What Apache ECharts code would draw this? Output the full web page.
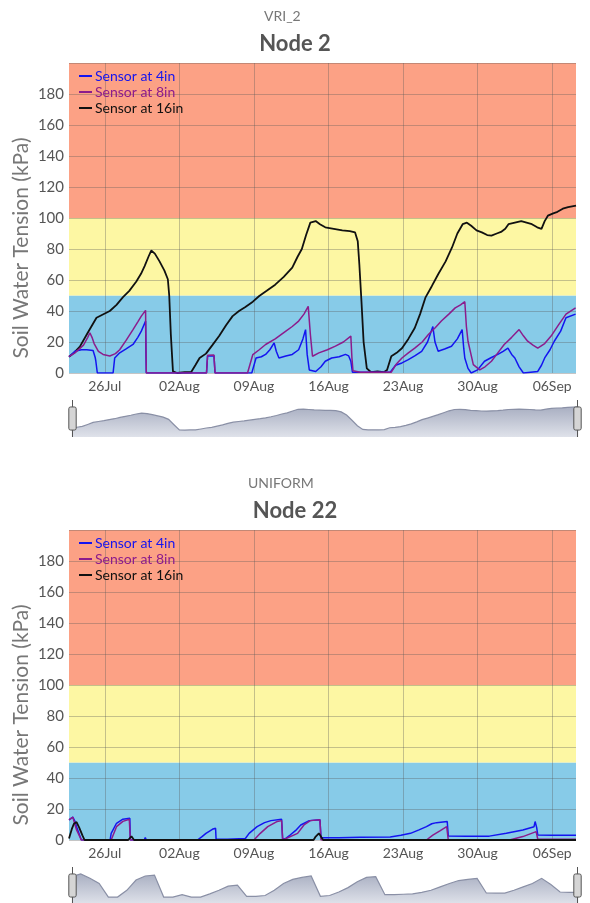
<!DOCTYPE html>
<html>
<head>
<meta charset="utf-8">
<script src="https://cdn.jsdelivr.net/npm/echarts@6/dist/echarts.min.js"></script>
<style>
  html, body { margin: 0; padding: 0; background: #fff; }
  #chart { width: 590px; height: 903px; }
</style>
</head>
<body>
<div id="chart"></div>
<script>
// x = days counted from 26 Jul (0 = 26Jul, 7 = 02Aug ...)
var xMin = -3.36, xMax = 44.24;
var tickDays = [0, 7, 14, 21, 28, 35, 42];
var tickLabels = ['26Jul', '02Aug', '09Aug', '16Aug', '23Aug', '30Aug', '06Sep'];

// tension bands (kPa)
var bandEdges = [0, 50, 100, 200];
var bandColors = ['#87cbe8', '#fdf7a3', '#fca185'];

var seriesNames = ['Sensor at 4in', 'Sensor at 8in', 'Sensor at 16in'];
var seriesColors = ['#1414f0', '#8c1c8c', '#111111'];

// Node 2 (VRI_2)
var n2_4in = [[-3.36,10.5],[-2.8,14],[-2.2,15],[-1.7,15],[-1.1,14.5],[-0.9,10],[-0.84,7.6],[-0.7,0],[0.78,0],[0.93,9.7],[1.4,13],[2.0,15.5],[2.65,18.4],[3.1,23],[3.43,27],[3.83,33.5],[3.86,15],[3.9,0],[9.55,0],[9.65,11],[10.25,11.2],[10.35,0],[13.8,0],[14.2,9.7],[14.7,10.5],[15.1,12],[15.5,15],[15.9,19.4],[16.1,14],[16.35,9.7],[17,11],[17.6,12],[18.2,15],[18.6,22],[18.85,28],[19.0,12],[19.2,2],[19.8,1],[20.3,4],[20.7,7.6],[21.3,9.7],[22,10.5],[22.6,12],[22.9,11],[23.1,7.6],[23.25,0.5],[26.8,0.5],[27.3,5],[27.9,6.5],[28.5,8.6],[29.1,11],[29.75,14],[30.3,20],[30.8,30],[31.0,20],[31.3,14],[31.9,15.5],[32.55,17.3],[33.1,22],[33.55,28],[33.7,16],[33.8,9.7],[34.1,3],[34.4,0],[35,2],[35.65,7.6],[36.3,10],[36.9,12],[37.4,14],[37.85,16],[38.2,12],[38.5,9.7],[38.9,4],[39.3,0],[40.65,1],[41.0,5],[41.3,9.7],[41.8,15],[42.2,20.5],[42.8,27],[43.3,35.6],[44.2,38]];
var n2_8in = [[-3.36,10.5],[-2.8,13],[-2.0,18],[-1.6,23],[-1.4,26],[-1.2,23],[-1.0,19],[-0.6,14],[-0.16,12],[0.47,11],[1.0,12.5],[1.4,15],[2.0,21],[2.65,28],[3.1,33],[3.43,36.7],[3.83,40.4],[3.86,20],[3.9,0],[9.55,0],[9.65,11.4],[10.25,11.6],[10.35,0],[13.4,0],[13.9,11.9],[14.5,15],[15.1,18.4],[16,22],[17,27],[17.6,30],[18.2,33.5],[18.7,38],[19.1,43],[19.3,25],[19.5,10.8],[20.1,13],[20.9,15],[21.65,17.3],[22.4,20],[23.1,23.8],[23.2,10],[23.3,1.5],[24,0.5],[26.9,0.5],[27.4,6],[27.9,9.7],[28.5,13],[29.1,16],[29.8,20],[30.4,25],[31,29],[31.6,33.5],[32.3,38],[32.9,42],[33.4,44],[33.8,46],[33.95,30],[34.1,20.5],[34.6,5.4],[35.2,2],[35.7,4],[36.3,7.6],[36.9,13],[37.5,18.4],[38.2,23],[38.9,28],[39.3,24],[39.7,20.5],[40.2,18],[40.65,16],[41.3,19],[41.9,23.8],[42.6,31],[43.3,38],[44.2,42]];
var n2_16in = [[-3.36,10.5],[-2.9,13],[-2.34,17],[-1.6,26],[-0.78,35.6],[0.47,40],[1.1,44],[1.71,49],[2.3,53],[2.96,59],[3.4,64],[3.74,69],[4.1,75],[4.36,79],[4.7,77],[5.14,72],[5.6,66],[5.92,60.5],[6.05,50],[6.2,25],[6.4,1],[6.8,0],[7.5,0.5],[8.1,0.5],[8.5,5],[8.9,9.7],[9.5,12.5],[10.1,18],[10.75,24],[11.4,31],[12,36.7],[12.6,40],[13.2,42.6],[13.9,46],[14.5,49.7],[15.2,53],[16.0,57],[16.8,62],[17.6,68],[18.1,75],[18.5,80],[18.9,89],[19.3,97],[19.8,98],[20.2,96],[20.7,94],[21.5,93],[22.3,92],[23,91.5],[23.5,90.7],[23.75,85],[23.9,70],[24.1,46],[24.3,20],[24.6,3],[25,0.5],[25.6,1],[26.2,0.5],[26.5,2],[26.9,10.8],[27.4,13],[27.9,16],[28.5,22],[29.1,29],[29.6,38],[30.1,48.6],[30.7,56],[31.3,63.7],[32,72],[32.6,81],[33.1,90],[33.6,96],[34.0,97],[34.4,95],[34.9,92],[35.4,90.7],[35.9,89],[36.3,88.6],[36.8,90],[37.2,91],[37.6,93],[37.9,96],[38.5,97],[39.1,98],[39.6,97],[40.1,96],[40.6,94],[41.0,93],[41.3,98],[41.6,101.5],[42.1,103],[42.5,104],[43.0,106],[43.5,107],[44.24,108]];

// Node 22 (UNIFORM)
var n22_4in = [[-3.36,13],[-3.0,14.7],[-2.8,12],[-2.65,8.6],[-2.2,0],[0.5,0],[0.6,4.3],[1.1,10.8],[1.7,13.4],[2.35,14],[2.4,0],[3.7,0],[3.8,1.5],[3.9,0],[8.7,0],[9.1,2],[9.5,4.3],[10.1,6.9],[10.4,7.6],[10.45,0.5],[11.5,0.5],[13.2,1],[13.55,4.3],[14.3,8.6],[15,11.2],[15.6,12.5],[16.6,13.4],[16.7,0.5],[17.0,1],[17.4,3.2],[17.9,6],[18.4,9.7],[19.2,12.5],[20.2,13],[20.3,1.5],[22,1.5],[24,1.8],[26.8,2],[27.8,3],[28.7,4.3],[29.5,6.5],[30.2,8.6],[30.7,10.5],[31.15,11.2],[32.15,11.9],[32.25,2.6],[34,2.5],[36.1,2.5],[37.7,4.3],[39.25,6.5],[40.3,8.6],[40.4,11.9],[40.55,8],[40.65,3.2],[42,3],[44.24,3]];
var n22_8in = [[-3.36,13],[-3.0,14.7],[-2.65,6.5],[-2.2,0],[0.6,0],[1.1,8.6],[1.7,12],[2.3,13.4],[2.4,0],[14,0],[14.6,4.3],[15.3,8.6],[16.2,12],[16.6,12.5],[16.7,0],[18.1,4.3],[18.7,9.7],[19.3,12.5],[20.2,13],[20.3,0],[30.2,0],[30.8,3.2],[31.5,6],[32.1,8.6],[32.25,0],[38,0],[39.25,2.2],[40.5,5.4],[40.65,0.5],[44.24,0.5]];
var n22_16in = [[-3.36,1],[-3.1,7],[-2.9,10.5],[-2.65,11.6],[-2.4,8],[-2.1,3],[-1.9,0],[2.2,0],[2.5,2.4],[2.75,0],[19.6,0],[19.8,2.2],[20.1,4.3],[20.5,0],[44.24,0]];

var FONT = 'Lato, "Open Sans", sans-serif';

var panels = [
  { sub: 'VRI_2', subLeft: 259, title: 'Node 2', top: 0, data: [n2_4in, n2_8in, n2_16in], shadowFirst: 2 },
  { sub: 'UNIFORM', subLeft: 243, title: 'Node 22', top: 467, data: [n22_4in, n22_8in, n22_16in], shadowFirst: 0 }
];

var option = {
  animation: false,
  title: [], legend: [], grid: [], xAxis: [], yAxis: [], dataZoom: [], series: []
};

panels.forEach(function (p, i) {
  option.title.push({
    text: p.sub, left: p.subLeft, top: p.top + 4,
    textStyle: { fontFamily: FONT, fontSize: 14, fontWeight: 'normal', color: '#777' }
  });
  option.title.push({
    text: p.title, left: 'center', top: p.top + 28,
    textStyle: { fontFamily: FONT, fontSize: 22, fontWeight: 'bold', color: '#555' }
  });
  option.grid.push({ left: 69, right: 14, top: p.top + 63, height: 310 });
  option.legend.push({
    orient: 'vertical', left: 74, top: p.top + 64, itemGap: 2,
    icon: 'rect', itemWidth: 13, itemHeight: 2,
    textStyle: { fontFamily: FONT, fontSize: 14, padding: [0, 0, 0, -2] },
    data: seriesNames.map(function (n, k) {
      return { name: n, textStyle: { color: seriesColors[k] } };
    })
  });
  option.xAxis.push({
    type: 'value', gridIndex: i, min: xMin, max: xMax, z: 2,
    axisLine: { show: false },
    axisTick: { show: false, customValues: tickDays },
    axisLabel: {
      customValues: tickDays, margin: 6,
      fontFamily: FONT, fontSize: 14, color: '#555',
      formatter: function (v) { return tickLabels[tickDays.indexOf(Math.round(v))] || ''; }
    },
    splitLine: { show: true, lineStyle: { color: 'rgba(90,90,90,0.35)', width: 1 } }
  });
  option.yAxis.push({
    type: 'value', gridIndex: i, min: 0, max: 200, interval: 20, z: 2,
    name: 'Soil Water Tension (kPa)', nameLocation: 'middle', nameGap: 37,
    nameMoveOverlap: false,
    nameTextStyle: { fontFamily: FONT, fontSize: 21, color: '#777', padding: [0, 60, 0, 0] },
    axisLine: { show: false }, axisTick: { show: false },
    axisLabel: { showMaxLabel: false, margin: 5, fontFamily: FONT, fontSize: 15, color: '#555' },
    splitLine: { show: true, lineStyle: { color: 'rgba(90,90,90,0.35)', width: 1 } }
  });
  option.dataZoom.push({
    type: 'slider', xAxisIndex: i, start: 0, end: 100, filterMode: 'none',
    left: 69, right: 14, top: p.top + 400, height: 37,
    showDetail: false, brushSelect: false, moveHandleSize: 0,
    borderColor: 'transparent', backgroundColor: 'transparent',
    fillerColor: 'rgba(0,0,0,0)',
    handleStyle: { color: '#d5d5d5', borderColor: '#555', borderWidth: 1 },
    dataBackground: {
      lineStyle: { color: '#8a90a6', width: 1.2, opacity: 1 },
      areaStyle: { opacity: 1, color: new echarts.graphic.LinearGradient(0, 0, 0, 1, [
        { offset: 0, color: '#dfe2ea' }, { offset: 1, color: '#a9afc2' }]) }
    },
    selectedDataBackground: {
      lineStyle: { color: '#8a90a6', width: 1.2, opacity: 1 },
      areaStyle: { opacity: 1, color: new echarts.graphic.LinearGradient(0, 0, 0, 1, [
        { offset: 0, color: '#dfe2ea' }, { offset: 1, color: '#a9afc2' }]) }
    }
  });
  // the first line series of each panel feeds the slider's shadow
  var order = [p.shadowFirst].concat([0, 1, 2].filter(function (k) { return k !== p.shadowFirst; }));
  order.forEach(function (k) {
    option.series.push({
      type: 'line', name: seriesNames[k], xAxisIndex: i, yAxisIndex: i, z: 3,
      data: p.data[k], showSymbol: false, symbol: 'none',
      lineStyle: { color: seriesColors[k], width: k === 2 ? 1.8 : 1.5 },
      itemStyle: { color: seriesColors[k] }
    });
  });
  option.series.push({
    type: 'line', xAxisIndex: i, yAxisIndex: i, data: [], silent: true,
    markArea: {
      silent: true,
      data: bandColors.map(function (c, k) {
        return [{ yAxis: bandEdges[k], itemStyle: { color: c, opacity: 1 } }, { yAxis: bandEdges[k + 1] }];
      })
    }
  });
});

var chart = echarts.init(document.getElementById('chart'));
chart.setOption(option);
</script>
</body>
</html>
